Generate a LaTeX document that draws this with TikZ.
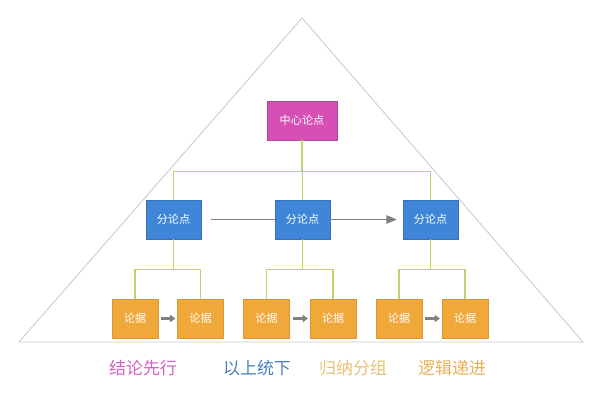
\documentclass[tikz,border=0pt]{standalone}
\usepackage{fontspec}
\setmainfont{Noto Sans CJK SC}
\usepackage{tikz}
\usetikzlibrary{arrows.meta,positioning}
\definecolor{ptop}{RGB}{214,79,180}
\definecolor{pmid}{RGB}{63,134,216}
\definecolor{pbot}{RGB}{240,168,58}
\definecolor{lnk}{RGB}{184,216,107}
\definecolor{arr}{RGB}{128,128,128}
\definecolor{tri}{RGB}{200,200,200}
\definecolor{capA}{RGB}{212,95,192}
\definecolor{capB}{RGB}{74,127,192}
\definecolor{capC}{RGB}{232,192,120}
\definecolor{capD}{RGB}{235,175,85}

\begin{document}
\begin{tikzpicture}[x=0.03cm,y=-0.03cm,
  box/.style={inner sep=0pt,minimum height=1.17cm,text=white,font=\fontsize{9.5}{11}\selectfont},
  topbox/.style={box,fill=ptop,draw=ptop!85!black,minimum width=2.1cm},
  midbox/.style={box,fill=pmid,draw=pmid!85!black,minimum width=1.65cm},
  botbox/.style={box,fill=pbot,draw=pbot!90!black,minimum width=1.38cm},
  link/.style={lnk,line width=0.9pt},
  bigarrow/.style={arr,line width=1.7pt},
  smallarrow/.style={arr,line width=1.8pt,-{Triangle[length=4.5pt,width=6pt]},shorten <=2.5pt,shorten >=1.5pt},
  caption/.style={font=\fontsize{14.5}{16}\selectfont}]
  \useasboundingbox (0,0) rectangle (600,400);
  % pyramid
  \draw[tri,line width=0.7pt] (302,18) -- (19,342) -- (583,342) -- cycle;
  % boxes
  \node[topbox] (top) at (302,120.5) {中心论点};
  \node[midbox] (m1) at (173.5,219.5) {分论点};
  \node[midbox] (m2) at (302.5,219.5) {分论点};
  \node[midbox] (m3) at (430.5,219.5) {分论点};
  \node[botbox] (b1) at (135,318.5) {论据};
  \node[botbox] (b2) at (200.5,318.5) {论据};
  \node[botbox] (b3) at (266.5,318.5) {论据};
  \node[botbox] (b4) at (333,318.5) {论据};
  \node[botbox] (b5) at (399,318.5) {论据};
  \node[botbox] (b6) at (465,318.5) {论据};
  % tree lines
  \draw[link] (top.south) -- (m2.north);
  \draw[link] (top.south) -- ++(0,31) -| (m1.north);
  \draw[link] (top.south) -- ++(0,31) -| (m3.north);
  \draw[link] (m1.south) -- ++(0,30) -| (b1.north);
  \draw[link] (m1.south) -- ++(0,30) -| (b2.north);
  \draw[link] (m2.south) -- ++(0,30) -| (b3.north);
  \draw[link] (m2.south) -- ++(0,30) -| (b4.north);
  \draw[link] (m3.south) -- ++(0,30) -| (b5.north);
  \draw[link] (m3.south) -- ++(0,30) -| (b6.north);
  % arrows
  \coordinate (a0) at (211,219.5);
  \draw[bigarrow] (a0) -- (m2.west);
  \draw[bigarrow,-{Triangle[length=9pt,width=7pt]},shorten >=5pt] (m2.east) -- (m3.west);
  \draw[smallarrow] (b1.east) -- (b2.west);
  \draw[smallarrow] (b3.east) -- (b4.west);
  \draw[smallarrow] (b5.east) -- (b6.west);
  % captions
  \node[caption,text=capA] (c1) at (143,368) {结论先行};
  \node[caption,text=capB] (c2) at (257,368) {以上统下};
  \node[caption,text=capC] (c3) at (353,368) {归纳分组};
  \node[caption,text=capD] (c4) at (452,368) {逻辑递进};
\end{tikzpicture}
\end{document}
